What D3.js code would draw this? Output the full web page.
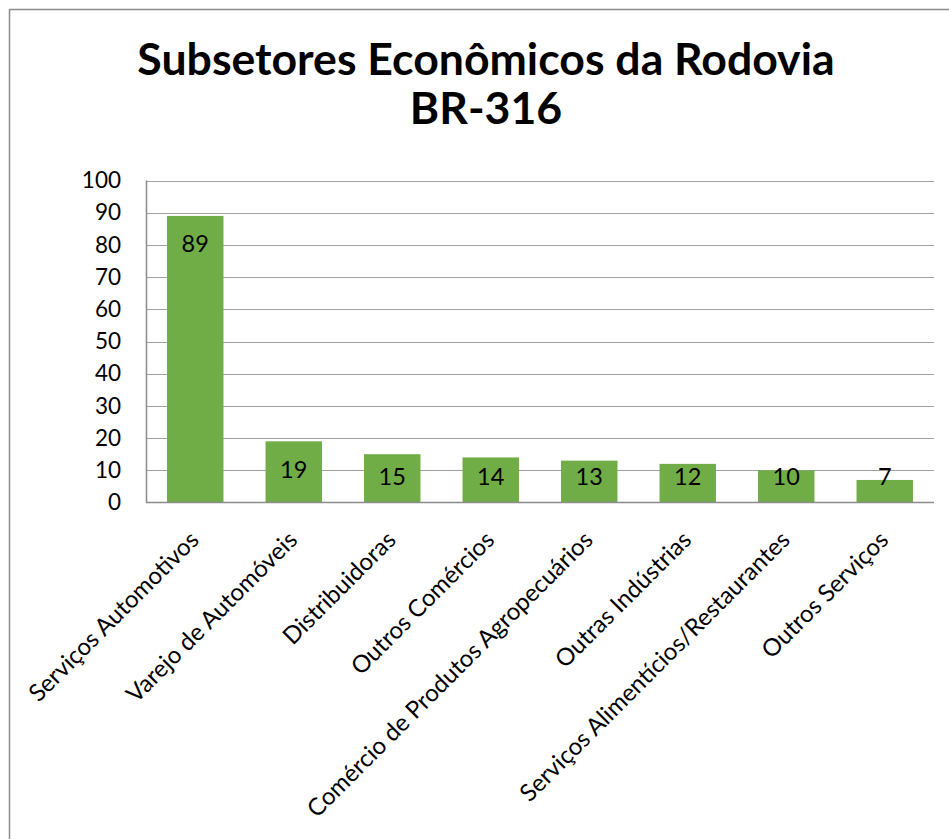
<!DOCTYPE html>
<html lang="pt">
<head>
    <meta charset="UTF-8">
    <title>Subsetores Econômicos da Rodovia BR-316</title>
    <script src="https://d3js.org/d3.v7.min.js"></script>
    <style>
        body { margin: 0; background: #fff; }
        text { font-family: Lato, "Open Sans", sans-serif; fill: #000; }
        .grid line { stroke: #a0a0a0; stroke-width: 1; }
    </style>
</head>
<body>
    <svg width="949" height="839"></svg>
    <script>
        const categories = [
            "Serviços Automotivos",
            "Varejo de Automóveis",
            "Distribuidoras",
            "Outros Comércios",
            "Comércio de Produtos Agropecuários",
            "Outras Indústrias",
            "Serviços Alimentícios/Restaurantes",
            "Outros Serviços"
        ];
        const values = [89, 19, 15, 14, 13, 12, 10, 7];
        const yTicks = [0, 10, 20, 30, 40, 50, 60, 70, 80, 90, 100];
        const titleLines = ["Subsetores Econômicos da Rodovia", "BR-316"];

        const svg = d3.select("svg");
        const margin = { left: 146, right: 934, top: 180.5, bottom: 502.5 };

        // outer chart border (cut off at right and bottom)
        svg.append("rect")
            .attr("x", 9.5).attr("y", 9.5)
            .attr("width", 960).attr("height", 860)
            .attr("fill", "none")
            .attr("stroke", "#8c8c8c")
            .attr("stroke-width", 1.5);

        const x = d3.scaleBand()
            .domain(categories)
            .range([margin.left, margin.right])
            .paddingInner(0.427)
            .paddingOuter(0.2135);

        const y = d3.scaleLinear()
            .domain([0, 100])
            .range([margin.bottom, margin.top]);

        // gridlines
        svg.append("g")
            .attr("class", "grid")
            .selectAll("line")
            .data(yTicks.filter(d => d > 0))
            .enter().append("line")
            .attr("x1", margin.left).attr("x2", margin.right)
            .attr("y1", d => Math.round(y(d)) + 0.5)
            .attr("y2", d => Math.round(y(d)) + 0.5);

        // y axis labels
        const yAxis = svg.append("g")
            .attr("transform", `translate(${margin.left},0)`)
            .call(d3.axisLeft(y).tickValues(yTicks).tickSize(0).tickPadding(25));
        yAxis.select(".domain").remove();
        yAxis.selectAll("text")
            .style("font-family", "Lato, sans-serif")
            .style("font-size", "22.5px")
            .attr("fill", "#000");

        // bars
        svg.append("g")
            .selectAll("rect")
            .data(values)
            .enter().append("rect")
            .attr("x", (d, i) => x(categories[i]))
            .attr("width", x.bandwidth())
            .attr("y", d => y(d))
            .attr("height", d => y(0) - y(d))
            .attr("fill", "#70ad47");

        // axis lines
        svg.append("line")
            .attr("x1", margin.left + 0.5).attr("x2", margin.left + 0.5)
            .attr("y1", margin.top).attr("y2", margin.bottom)
            .attr("stroke", "#8c8c8c").attr("stroke-width", 1.5);
        svg.append("line")
            .attr("x1", margin.left).attr("x2", margin.right)
            .attr("y1", margin.bottom).attr("y2", margin.bottom)
            .attr("stroke", "#8c8c8c").attr("stroke-width", 1.5);

        // value labels
        svg.append("g")
            .selectAll("text")
            .data(values)
            .enter().append("text")
            .attr("x", (d, i) => x(categories[i]) + x.bandwidth() / 2)
            .attr("y", d => Math.min(y(d) + 28, y(0) - 26))
            .attr("dy", "0.35em")
            .attr("text-anchor", "middle")
            .style("font-size", "23.5px")
            .text(d => d);

        // category labels, rotated
        svg.append("g")
            .selectAll("text")
            .data(categories)
            .enter().append("text")
            .attr("transform", d => `translate(${x(d) + x.bandwidth() / 2 + 5},${margin.bottom + 39}) rotate(-45)`)
            .attr("text-anchor", "end")
            .style("font-size", "24px")
            .text(d => d);

        // title
        const title = svg.append("text")
            .attr("x", 486)
            .attr("text-anchor", "middle")
            .style("font-size", "44.6px")
            .style("font-weight", "bold");
        title.selectAll("tspan")
            .data(titleLines)
            .enter().append("tspan")
            .attr("x", 486)
            .attr("y", (d, i) => 75 + i * 49)
            .text(d => d);
    </script>
</body>
</html>
